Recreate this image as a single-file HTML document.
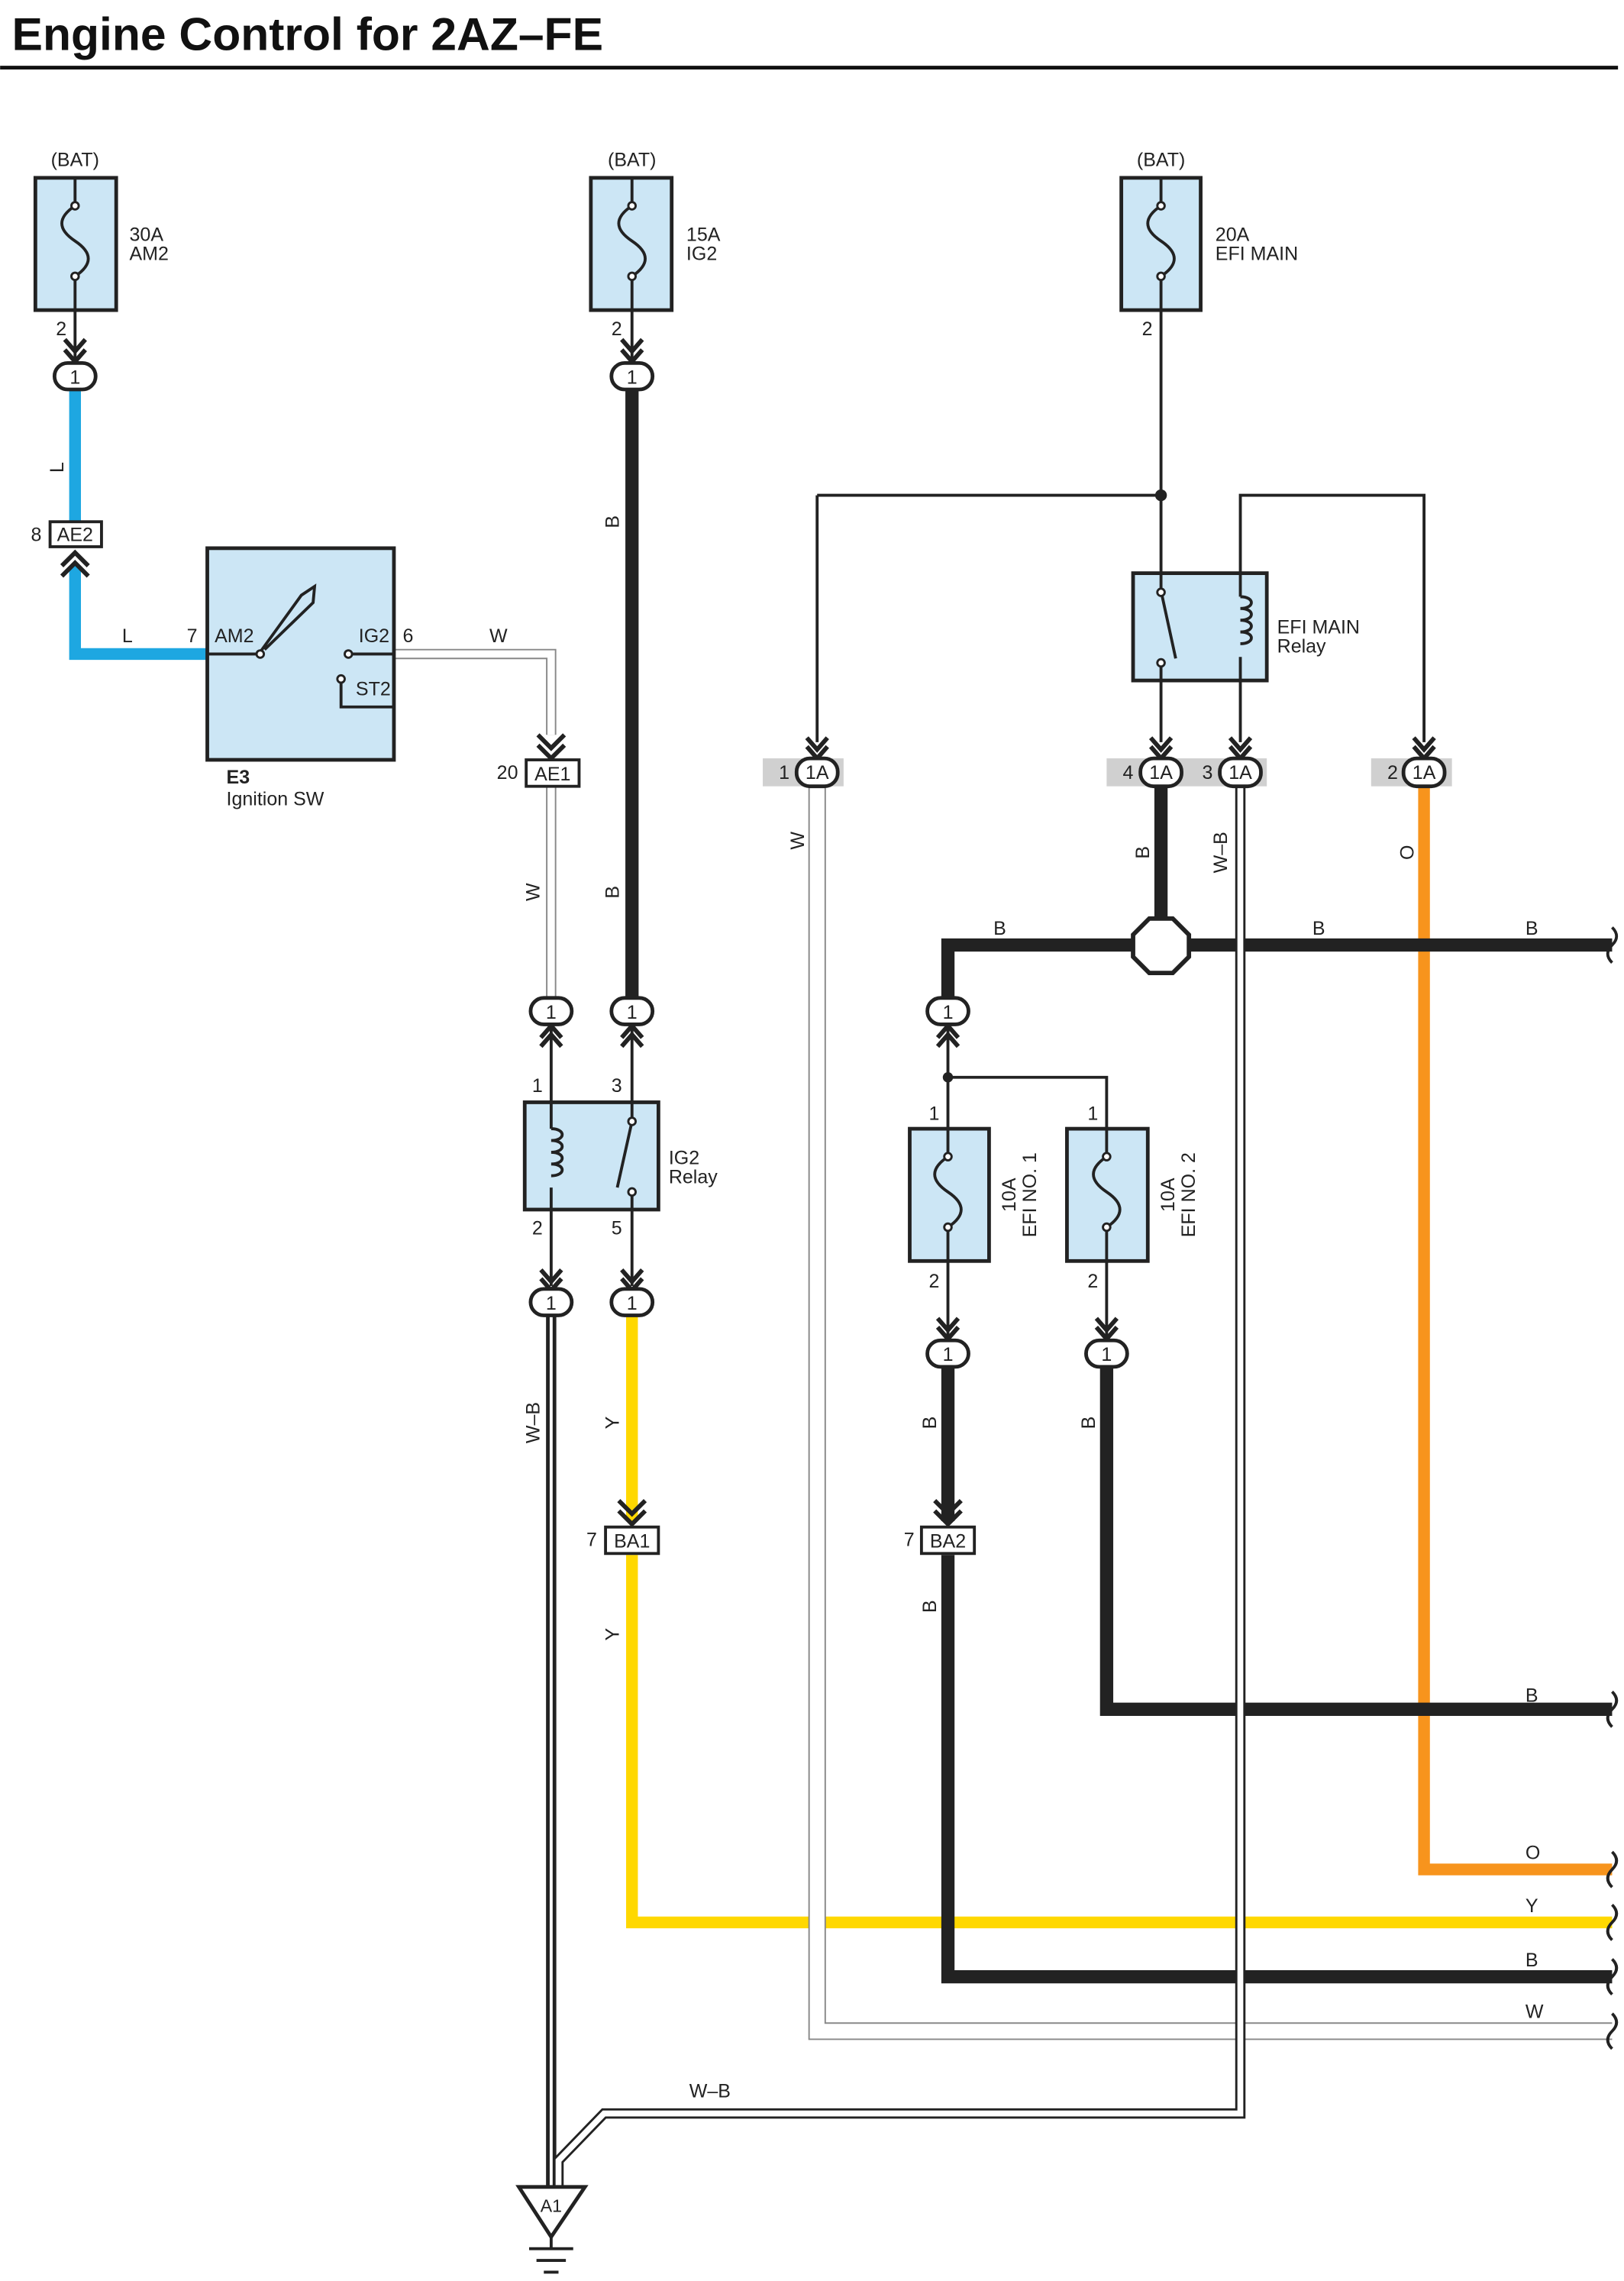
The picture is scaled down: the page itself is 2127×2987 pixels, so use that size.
<!DOCTYPE html>
<html><head><meta charset="utf-8"><style>
html,body{margin:0;padding:0;background:#fff}
svg{display:block}
text{font-family:"Liberation Sans",sans-serif;font-size:13px;fill:#222}
</style></head><body>
<svg width="2127" height="2987" viewBox="0 0 1105 1552" xmlns="http://www.w3.org/2000/svg">
<text x="8" y="34" style="font-size:31.5px;font-weight:bold;fill:#111">Engine Control for 2AZ–FE</text>
<line x1="0" y1="46" x2="1101" y2="46" stroke="#111" stroke-width="2.5"/>

<rect x="519" y="516" width="55" height="19" fill="#d0d0d0"/>
<rect x="753" y="516" width="109" height="19" fill="#d0d0d0"/>
<rect x="933" y="516" width="55" height="19" fill="#d0d0d0"/>

<g fill="none" stroke-linejoin="miter">
<path d="M51 265 V360 M51 385 V445 H141" stroke="#1ea7e1" stroke-width="8"/>
<path d="M430 895 V1035 M430 1058 V1308 H1097" stroke="#ffd800" stroke-width="8"/>
<path d="M969 535 V1272 H1097" stroke="#f7941d" stroke-width="8"/>
<path d="M430 265 V680" stroke="#222" stroke-width="9"/>
<path d="M790 535 V625" stroke="#222" stroke-width="9"/>
<path d="M645 680 V643 H772 M808 643 H1097" stroke="#222" stroke-width="9"/>
<path d="M645 930 V1035 M645 1058 V1345 H1097" stroke="#222" stroke-width="9"/>
<path d="M753 930 V1163 H1097" stroke="#222" stroke-width="9"/>
<path d="M375 895 V1488" stroke="#222" stroke-width="7"/>
<path d="M375 895 V1488" stroke="#fff" stroke-width="2"/>
<path d="M268 445 H375 V500 M375 535 V680" stroke="#888" stroke-width="7"/>
<path d="M268 445 H375 V500 M375 535 V680" stroke="#fff" stroke-width="5"/>
<path d="M556 535 V1382 H1097" stroke="#888" stroke-width="12"/>
<path d="M556 535 V1382 H1097" stroke="#fff" stroke-width="10"/>
<path d="M844 535 V1438 H411 L380 1470 V1488" stroke="#222" stroke-width="7"/>
<path d="M844 535 V1438 H411 L380 1470 V1488" stroke="#fff" stroke-width="4"/>
<path d="M790 211 V390 M556 337 H790 M556 337 V505 M844 390 V337 H969 V505 M790 463 V505 M844 463 V505" stroke="#222" stroke-width="2"/>
<path d="M645 700 V768 M645 733 H753 V768 M645 858 V910 M753 858 V910 M430 700 V750 M375 700 V750 M375 823 V875 M430 823 V875 M51 211 V245 M430 211 V245" stroke="#222" stroke-width="2"/>
</g>
<circle cx="790" cy="337" r="4" fill="#222"/>
<circle cx="645" cy="733" r="3.5" fill="#222"/>
<polygon points="782,625 798,625 809,636 809,651 798,662 782,662 771,651 771,636" fill="#fff" stroke="#222" stroke-width="3"/>

<g stroke="#222" stroke-width="2.5" fill="#cce6f5">
<rect x="24" y="121" width="55" height="90"/>
<rect x="402" y="121" width="55" height="90"/>
<rect x="763" y="121" width="54" height="90"/>
<rect x="619" y="768" width="54" height="90"/>
<rect x="726" y="768" width="55" height="90"/>
<rect x="141" y="373" width="127" height="144"/>
<rect x="771" y="390" width="91" height="73"/>
<rect x="357" y="750" width="91" height="73"/>
</g>
<g fill="none" stroke="#222" stroke-width="2">
<path d="M51 140 c-12 8 -12 16 0 24 c12 8 12 16 0 24"/>
<path d="M430 140 c-12 8 -12 16 0 24 c12 8 12 16 0 24"/>
<path d="M790 140 c-12 8 -12 16 0 24 c12 8 12 16 0 24"/>
<path d="M645 787 c-12 8 -12 16 0 24 c12 8 12 16 0 24"/>
<path d="M753 787 c-12 8 -12 16 0 24 c12 8 12 16 0 24"/>
<path d="M51 121 V140 M51 188 V211 M430 121 V140 M430 188 V211 M790 121 V140 M790 188 V211 M645 768 V787 M645 835 V858 M753 768 V787 M753 835 V858"/>
<path d="M141 445 H176 L205 405 L214 399 L213 410 L180 442 M240 445 H268 M232 465 V481 H268"/>
<path d="M790 390 V402 L800 448 M790 452 V463 M844 390 V406 M844 447 V463"/>
<path d="M844 406 c10 0 10 8 0 8 c10 0 10 8 0 8 c10 0 10 8 0 8 c10 0 10 8 0 8"/>
<path d="M430 750 V763 L420 808 M430 812 V823 M375 750 V768 M375 808 V823"/>
<path d="M375 768 c10 0 10 8 0 8 c10 0 10 8 0 8 c10 0 10 8 0 8 c10 0 10 8 0 8"/>
</g>
<g fill="#fff" stroke="#222" stroke-width="1.5">
<circle cx="51" cy="140" r="2.5"/><circle cx="51" cy="188" r="2.5"/>
<circle cx="430" cy="140" r="2.5"/><circle cx="430" cy="188" r="2.5"/>
<circle cx="790" cy="140" r="2.5"/><circle cx="790" cy="188" r="2.5"/>
<circle cx="645" cy="787" r="2.5"/><circle cx="645" cy="835" r="2.5"/>
<circle cx="753" cy="787" r="2.5"/><circle cx="753" cy="835" r="2.5"/>
<circle cx="177" cy="445" r="2.5"/><circle cx="237" cy="445" r="2.5"/><circle cx="232" cy="462" r="2.5"/>
<circle cx="790" cy="403" r="2.5"/><circle cx="790" cy="451" r="2.5"/>
<circle cx="430" cy="763" r="2.5"/><circle cx="430" cy="811" r="2.5"/>
</g>

<g fill="none" stroke="#222" stroke-width="3">
<path d="M44 231 L51 239 L58 231 M44 238 L51 246 L58 238"/>
<path d="M423 231 L430 239 L437 231 M423 238 L430 246 L437 238"/>
<path d="M549 502 L556 510 L563 502 M549 508 L556 516 L563 508"/>
<path d="M783 502 L790 510 L797 502 M783 508 L790 516 L797 508"/>
<path d="M837 502 L844 510 L851 502 M837 508 L844 516 L851 508"/>
<path d="M962 502 L969 510 L976 502 M962 508 L969 516 L976 508"/>
<path d="M368 712 L375 704 L382 712 M368 706 L375 698 L382 706"/>
<path d="M423 712 L430 704 L437 712 M423 706 L430 698 L437 706"/>
<path d="M638 712 L645 704 L652 712 M638 706 L645 698 L652 706"/>
<path d="M368 864 L375 872 L382 864 M368 870 L375 878 L382 870"/>
<path d="M423 864 L430 872 L437 864 M423 870 L430 878 L437 870"/>
<path d="M638 897 L645 905 L652 897 M638 903 L645 911 L652 903"/>
<path d="M746 897 L753 905 L760 897 M746 903 L753 911 L760 903"/>
<path d="M366 500 L375 509 L384 500 M366 507 L375 516 L384 507"/>
<path d="M421 1021 L430 1030 L439 1021 M421 1028 L430 1037 L439 1028"/>
<path d="M636 1021 L645 1030 L654 1021 M636 1028 L645 1037 L654 1028"/>
<path d="M42 385 L51 376 L60 385 M42 392 L51 383 L60 392"/>
</g>

<g fill="#fff" stroke="#222" stroke-width="2.5">
<rect x="37" y="247" width="28" height="18" rx="9"/>
<rect x="416" y="247" width="28" height="18" rx="9"/>
<rect x="361" y="679" width="28" height="18" rx="9"/>
<rect x="416" y="679" width="28" height="18" rx="9"/>
<rect x="631" y="679" width="28" height="18" rx="9"/>
<rect x="361" y="877" width="28" height="18" rx="9"/>
<rect x="416" y="877" width="28" height="18" rx="9"/>
<rect x="631" y="912" width="28" height="18" rx="9"/>
<rect x="739" y="912" width="28" height="18" rx="9"/>
<rect x="542" y="516" width="28" height="19" rx="9"/>
<rect x="776" y="516" width="28" height="19" rx="9"/>
<rect x="830" y="516" width="28" height="19" rx="9"/>
<rect x="955" y="516" width="28" height="19" rx="9"/>
</g>
<g fill="#fff" stroke="#222" stroke-width="2">
<rect x="34" y="355" width="35" height="17"/>
<rect x="358" y="517" width="36" height="18"/>
<rect x="412" y="1039" width="36" height="18"/>
<rect x="627" y="1039" width="36" height="18"/>
</g>
<g style="font-size:12px" text-anchor="middle">
<text x="51" y="261">1</text><text x="430" y="261">1</text>
<text x="375" y="693">1</text><text x="430" y="693">1</text><text x="645" y="693">1</text>
<text x="375" y="891">1</text><text x="430" y="891">1</text>
<text x="645" y="926">1</text><text x="753" y="926">1</text>
<text x="556" y="530">1A</text><text x="790" y="530">1A</text><text x="844" y="530">1A</text><text x="969" y="530">1A</text>
<text x="51" y="368">AE2</text><text x="376" y="531">AE1</text><text x="430" y="1053">BA1</text><text x="645" y="1053">BA2</text>
</g>

<polygon points="353,1488 398,1488 375,1522" fill="#fff" stroke="#222" stroke-width="2.5"/>
<text x="375" y="1505" text-anchor="middle" style="font-size:12px">A1</text>
<path d="M375 1522 V1530 M360 1530 H390 M365 1538 H385 M370 1546 H380" stroke="#222" stroke-width="2"/>

<g fill="none" stroke="#222" stroke-width="2">
<path d="M1097 631 q6 6 0 12 q-6 6 0 12"/>
<path d="M1097 1151 q6 6 0 12 q-6 6 0 12"/>
<path d="M1097 1260 q6 6 0 12 q-6 6 0 12"/>
<path d="M1097 1296 q6 6 0 12 q-6 6 0 12"/>
<path d="M1097 1333 q6 6 0 12 q-6 6 0 12"/>
<path d="M1097 1370 q6 6 0 12 q-6 6 0 12"/>
</g>

<text x="51" y="113" text-anchor="middle">(BAT)</text>
<text x="430" y="113" text-anchor="middle">(BAT)</text>
<text x="790" y="113" text-anchor="middle">(BAT)</text>
<text x="88" y="164">30A</text><text x="88" y="177">AM2</text>
<text x="467" y="164">15A</text><text x="467" y="177">IG2</text>
<text x="827" y="164">20A</text><text x="827" y="177">EFI MAIN</text>
<text x="38" y="228">2</text><text x="416" y="228">2</text><text x="777" y="228">2</text>
<text x="21" y="368">8</text>
<text x="83" y="437">L</text><text x="127" y="437">7</text>
<text x="146" y="437">AM2</text><text x="244" y="437">IG2</text><text x="274" y="437">6</text>
<text x="242" y="473">ST2</text><text x="333" y="437">W</text>
<text x="154" y="533" style="font-weight:bold">E3</text><text x="154" y="548">Ignition SW</text>
<text x="338" y="530">20</text>
<text x="530" y="530">1</text><text x="764" y="530">4</text><text x="818" y="530">3</text><text x="944" y="530">2</text>
<text x="869" y="431">EFI MAIN</text><text x="869" y="444">Relay</text>
<text x="455" y="792">IG2</text><text x="455" y="805">Relay</text>
<text x="362" y="743">1</text><text x="416" y="743">3</text><text x="362" y="840">2</text><text x="416" y="840">5</text>
<text x="632" y="762">1</text><text x="740" y="762">1</text>
<text x="632" y="876">2</text><text x="740" y="876">2</text>
<text x="399" y="1052">7</text><text x="615" y="1052">7</text>
<text x="676" y="636">B</text><text x="893" y="636">B</text><text x="1038" y="636">B</text>
<text x="1038" y="1158">B</text><text x="1038" y="1265">O</text><text x="1038" y="1301">Y</text>
<text x="1038" y="1338">B</text><text x="1038" y="1373">W</text>
<text x="469" y="1427">W–B</text>
<g style="font-size:12px">
<text transform="translate(43,318) rotate(-90)" text-anchor="middle">L</text>
<text transform="translate(421,355) rotate(-90)" text-anchor="middle">B</text>
<text transform="translate(421,607) rotate(-90)" text-anchor="middle">B</text>
<text transform="translate(367,607) rotate(-90)" text-anchor="middle">W</text>
<text transform="translate(547,572) rotate(-90)" text-anchor="middle">W</text>
<text transform="translate(782,580) rotate(-90)" text-anchor="middle">B</text>
<text transform="translate(835,580) rotate(-90)" text-anchor="middle">W–B</text>
<text transform="translate(962,580) rotate(-90)" text-anchor="middle">O</text>
<text transform="translate(367,968) rotate(-90)" text-anchor="middle">W–B</text>
<text transform="translate(421,968) rotate(-90)" text-anchor="middle">Y</text>
<text transform="translate(421,1112) rotate(-90)" text-anchor="middle">Y</text>
<text transform="translate(637,968) rotate(-90)" text-anchor="middle">B</text>
<text transform="translate(637,1093) rotate(-90)" text-anchor="middle">B</text>
<text transform="translate(745,968) rotate(-90)" text-anchor="middle">B</text>
<text transform="translate(691,813) rotate(-90)" text-anchor="middle">10A</text>
<text transform="translate(705,813) rotate(-90)" text-anchor="middle">EFI NO. 1</text>
<text transform="translate(799,813) rotate(-90)" text-anchor="middle">10A</text>
<text transform="translate(813,813) rotate(-90)" text-anchor="middle">EFI NO. 2</text>
</g>
</svg>
</body></html>
